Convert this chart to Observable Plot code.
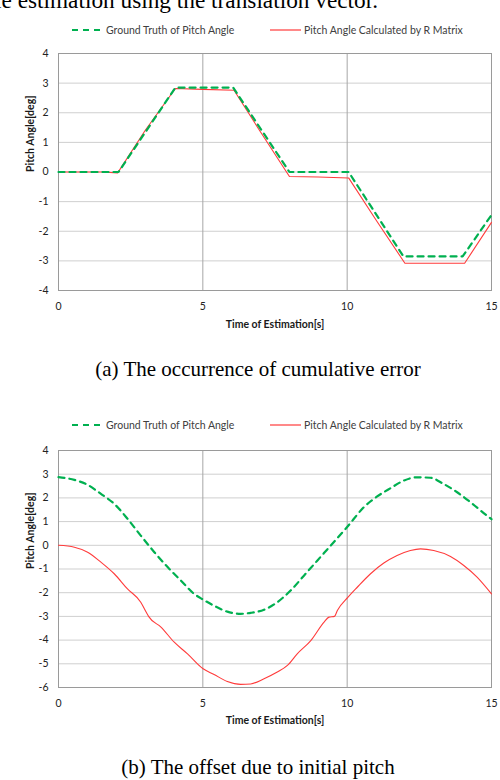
<!DOCTYPE html>
<html><head><meta charset="utf-8">
<script src="https://cdn.jsdelivr.net/npm/d3@7"></script>
<script src="https://cdn.jsdelivr.net/npm/@observablehq/plot@0.6"></script>
<style>
body{margin:0;background:#fff;width:500px;height:780px;overflow:hidden}
.top{height:20px;overflow:hidden;position:relative;font-family:"Liberation Serif",serif;font-size:23.3px;color:#000}
.top span{position:absolute;left:-5px;top:-11px;line-height:23px;white-space:nowrap}
.legend{position:relative;height:20px;font-family:Lato,sans-serif;font-size:10.5px;color:#404040}
.legend .tx{position:absolute;top:3px;line-height:14px;white-space:nowrap}
.legend svg{position:absolute;top:4px}
.cap{font-family:"Liberation Serif",serif;font-size:21px;text-align:center;line-height:21px;color:#000}
svg{display:block}
</style></head>
<body>
<div class="top"><span>le estimation using the translation vector.</span></div>
<div class="legend" id="legA"></div>
<div id="chartA"></div>
<div class="cap" style="height:80px;padding-top:24px;box-sizing:border-box;padding-left:16px">(a) The occurrence of cumulative error</div>
<div class="legend" id="legB" style="height:25px"></div>
<div id="chartB"></div>
<div class="cap" style="padding-top:30px;padding-left:16px">(b) The offset due to initial pitch</div>
<script>
// ---- data ----
const seriesNames = ["Ground Truth of Pitch Angle", "Pitch Angle Calculated by R Matrix"];
const xTicks = [0, 5, 10, 15];
const yTicksA = [-4, -3, -2, -1, 0, 1, 2, 3, 4];
const yTicksB = [-6, -5, -4, -3, -2, -1, 0, 1, 2, 3, 4];

// (a) cumulative error
const gtA_t = [0, 2.08, 4.05, 6.05, 8.0, 10.05, 11.95, 14.0, 15];
const gtA_v = [0, 0, 2.85, 2.85, 0, 0, -2.85, -2.85, -1.45];
const rmA_t = [0, 1.5, 2.05, 3, 4.05, 5, 6.08, 7, 8.0, 9, 10.05, 11, 12.0, 13, 14.07, 15];
const rmA_v = [0, 0, -0.03, 1.4, 2.82, 2.79, 2.76, 1.35, -0.15, -0.17, -0.2, -1.62, -3.08, -3.08, -3.08, -1.7];

// (b) offset due to initial pitch
const gtB_t = [0, 0.55, 1.01, 1.47, 1.93, 2.39, 2.85, 3.32, 3.78, 4.24, 4.70, 5.01, 5.39, 5.85, 6.31, 6.66, 7.12, 7.58, 8.04, 8.51, 8.97, 9.43, 10.0, 10.58, 11.04, 11.50, 11.96, 12.42, 12.88, 13.34, 13.81, 14.27, 14.73, 15];
const gtB_v = [2.875, 2.76, 2.55, 2.17, 1.75, 1.12, 0.41, -0.29, -0.92, -1.49, -2.05, -2.29, -2.55, -2.8, -2.89, -2.85, -2.72, -2.40, -1.91, -1.27, -0.64, -0.01, 0.77, 1.61, 2.06, 2.41, 2.73, 2.87, 2.85, 2.59, 2.24, 1.82, 1.36, 1.1];
const rmB_t = [0, 0.55, 1.01, 1.47, 1.93, 2.39, 2.85, 3.05, 3.12, 3.55, 4.01, 4.47, 5.01, 5.39, 5.85, 6.31, 6.66, 7.12, 7.58, 7.93, 8.27, 8.74, 9.2, 9.37, 9.56, 9.66, 10.03, 10.35, 10.81, 11.27, 11.73, 12.19, 12.54, 13.0, 13.58, 14.04, 14.5, 15];
const rmB_v = [0, -0.08, -0.29, -0.71, -1.2, -1.84, -2.4, -2.85, -3.0, -3.45, -4.09, -4.58, -5.21, -5.45, -5.75, -5.87, -5.85, -5.63, -5.35, -5.07, -4.58, -4.02, -3.24, -3.03, -3.0, -2.75, -2.19, -1.77, -1.2, -0.75, -0.43, -0.22, -0.15, -0.22, -0.47, -0.85, -1.34, -2.05];

const xTitle = "Time of Estimation[s]";
const yTitle = "Pitch Angle[deg]";
const colors = ["#00b050", "#ff3b3b"];

function rows(ts, vs, s) { return ts.map((t, i) => ({t, v: vs[i], s})); }

const FONT = "Lato, sans-serif";

function legend(el) {
  el.innerHTML =
    `<svg style="left:72px" width="32" height="12"><line x1="0" y1="6" x2="31" y2="6" stroke="${colors[0]}" stroke-width="2.2" stroke-dasharray="6,5"/></svg>` +
    `<div class="tx" style="left:106px">${seriesNames[0]}</div>` +
    `<svg style="left:270px" width="32" height="12"><line x1="0" y1="6" x2="31" y2="6" stroke="${colors[1]}" stroke-width="1.2"/></svg>` +
    `<div class="tx" style="left:304px">${seriesNames[1]}</div>`;
}

function chart(data, yTicks, opts) {
  const gt = data.filter(d => d.s === seriesNames[0]);
  const rm = data.filter(d => d.s === seriesNames[1]);
  const curve = opts.curve || "linear";
  return Plot.plot({
    width: 500, height: opts.height,
    marginLeft: 58, marginRight: 9, marginTop: opts.mt, marginBottom: opts.mb,
    x: {domain: [0, 15], ticks: xTicks},
    y: {domain: [yTicks[0], yTicks[yTicks.length - 1]], ticks: yTicks},
    style: {fontFamily: FONT, fontSize: "10.5px", color: "#222", background: "white", overflow: "visible"},
    marks: [
      Plot.gridY(yTicks, {stroke: "#cfcfcf", strokeOpacity: 1}),
      Plot.gridX([5, 10], {stroke: "#a6a6a6", strokeOpacity: 1}),
      Plot.frame({stroke: "#9a9a9a"}),
      Plot.axisX(xTicks, {tickSize: 0, tickPadding: 12, label: null, tickFormat: d => String(d)}),
      Plot.axisY(yTicks, {tickSize: 0, tickPadding: 10, label: null, tickFormat: d => String(d)}),
      Plot.line(rm, {x: "t", y: "v", stroke: colors[1], strokeWidth: 1.1, curve}),
      Plot.line(gt, {x: "t", y: "v", stroke: colors[0], strokeWidth: 2.2, strokeDasharray: "6,5", curve}),
      Plot.text([xTitle], {frameAnchor: "bottom", dy: opts.xt, text: d => d, fontWeight: "bold", fontSize: 10.5, lineAnchor: "middle", fill: "#1a1a1a"}),
      Plot.text([yTitle], {frameAnchor: "left", dx: -28, text: d => d, rotate: -90, fontWeight: "bold", fontSize: 10.5, fill: "#1a1a1a"})
    ]
  });
}

const dataA = [...rows(gtA_t, gtA_v, seriesNames[0]), ...rows(rmA_t, rmA_v, seriesNames[1])];
const dataB = [...rows(gtB_t, gtB_v, seriesNames[0]), ...rows(rmB_t, rmB_v, seriesNames[1])];

legend(document.getElementById("legA"));
legend(document.getElementById("legB"));
document.getElementById("chartA").append(chart(dataA, yTicksA, {height: 295, mt: 13, mb: 45, xt: 34}));
document.getElementById("chartB").append(chart(dataB, yTicksB, {height: 287, mt: 10, mb: 40, xt: 33, curve: "monotone-x"}));
</script>
</body></html>
